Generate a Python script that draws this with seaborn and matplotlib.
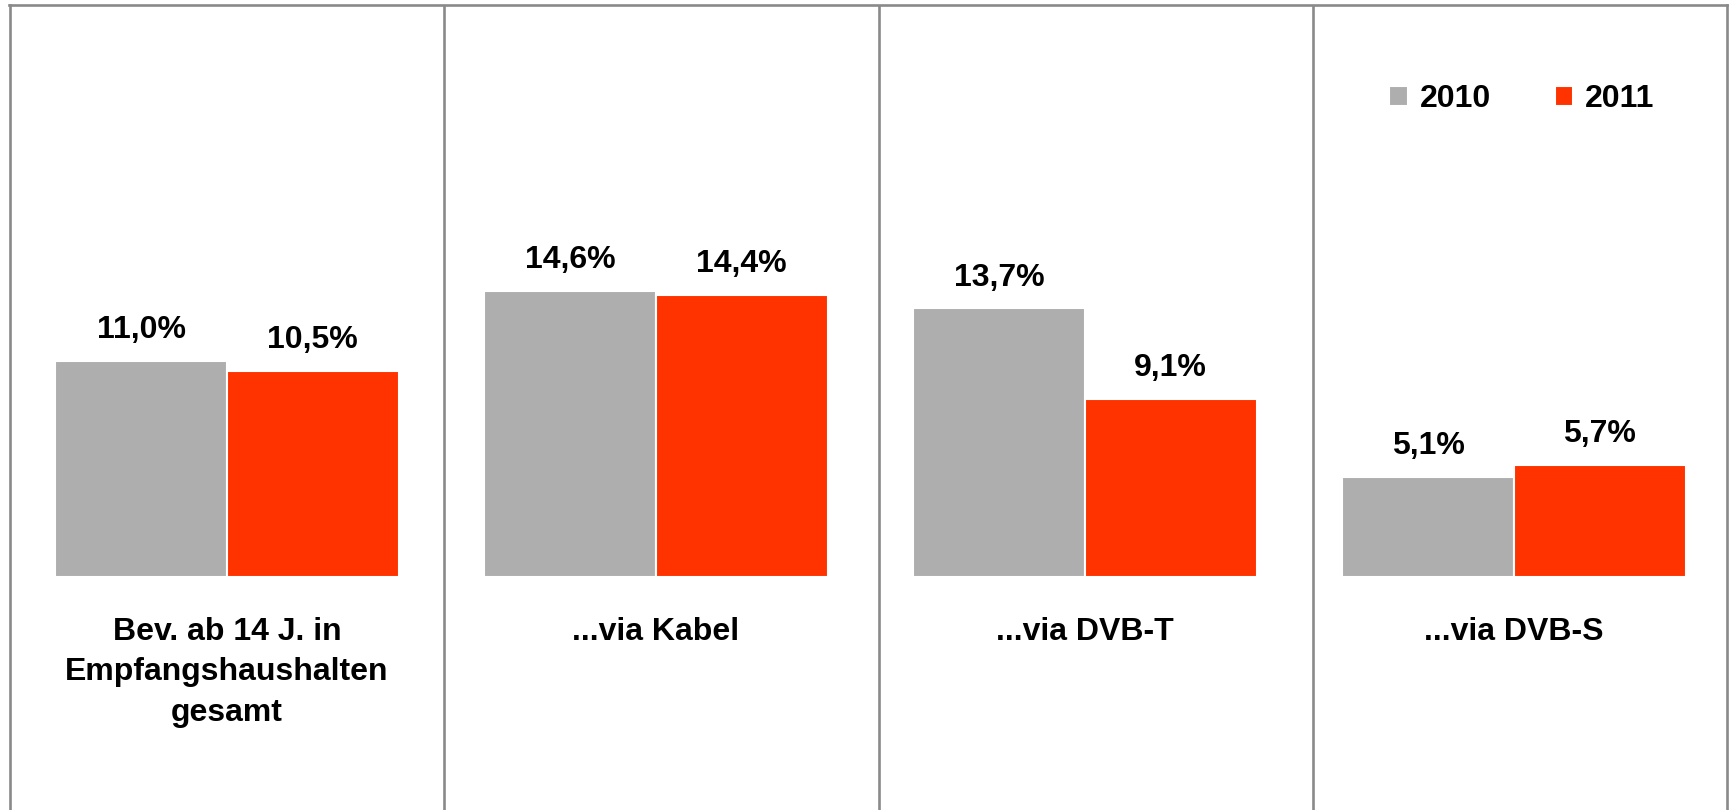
import pandas as pd
import numpy as np
import matplotlib
matplotlib.use("Agg")
import matplotlib.pyplot as plt
import seaborn as sns

sns.set_theme(style="white")
plt.rcParams["font.family"] = ["Liberation Sans", "DejaVu Sans"]
plt.rcParams["text.color"] = "black"

categories = [
    "Bev. ab 14 J. in\nEmpfangshaushalten\ngesamt",
    "...via Kabel",
    "...via DVB-T",
    "...via DVB-S",
]
years = ["2010", "2011"]
values_2010 = [11.0, 14.6, 13.7, 5.1]
values_2011 = [10.5, 14.4, 9.1, 5.7]
colors = ["#AEAEAE", "#FF3300"]

df = pd.DataFrame({
    "Kategorie": categories * 2,
    "Jahr": [years[0]] * 4 + [years[1]] * 4,
    "Wert": values_2010 + values_2011,
})

W, H = 1729, 810
fig = plt.figure(figsize=(W / 100, H / 100), dpi=100)

# frame: left edge ~9.5px, right ~1727px, top ~5px from top
left_px, right_px, top_px = 9.5, 1727, 5
ax = fig.add_axes([left_px / W, 0, (right_px - left_px) / W, (H - top_px) / H])

sns.barplot(
    data=df, x="Kategorie", y="Wert", hue="Jahr",
    palette=colors, saturation=1, width=0.8,
    edgecolor="white", linewidth=1.5, ax=ax,
)

# scale: 19.6 px per percent, baseline at 577px from top
px_per_pct = 19.6
baseline_from_bottom = H - 577
ax.set_ylim(-baseline_from_bottom / px_per_pct, (H - top_px - baseline_from_bottom) / px_per_pct)
ax.set_xlim(-(227 - left_px) / 429, 3 + (right_px - 1514) / 429)

ax.set_xlabel("")
ax.set_ylabel("")
ax.set_xticks([])
ax.set_yticks([])

frame_color = "#8A8A8A"
for side in ["left", "right", "top"]:
    ax.spines[side].set_visible(True)
    ax.spines[side].set_color(frame_color)
    ax.spines[side].set_linewidth(1.9)
ax.spines["bottom"].set_visible(False)

for xd in [0.506, 1.520, 2.531]:
    ax.axvline(xd, color=frame_color, linewidth=1.9)

for container in ax.containers:
    labels = [f"{bar.get_height():.1f}%".replace(".", ",") for bar in container]
    ax.bar_label(container, labels=labels, padding=11.5,
                 fontsize=23, fontweight="bold", color="black")

for i, cat in enumerate(categories):
    ax.annotate(cat, (i, 0), xytext=(0, -28.8), textcoords="offset points",
                ha="center", va="top", multialignment="center",
                fontsize=23, fontweight="bold", color="black", linespacing=1.45)

handles, labels = ax.get_legend_handles_labels()
ax.legend(
    handles, labels, ncol=2, frameon=False,
    loc="center", bbox_to_anchor=(1522 / W, (H - 99) / H),
    bbox_transform=fig.transFigure,
    prop={"size": 23, "weight": "bold"}, labelcolor="black",
    handlelength=0.57, handleheight=0.57, handletextpad=0.38,
    columnspacing=2.0, borderpad=0, borderaxespad=0,
)

fig.savefig("out.png", dpi=100, facecolor="white")
